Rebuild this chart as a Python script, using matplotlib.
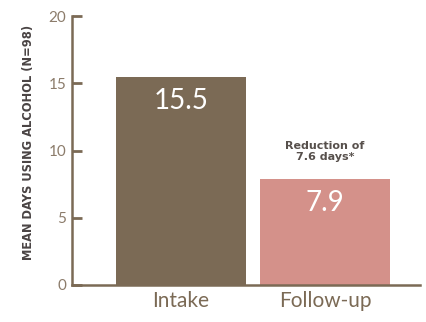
import matplotlib
matplotlib.use("Agg")
import matplotlib.pyplot as plt

categories = ["Intake", "Follow-up"]
values = [15.5, 7.9]
value_labels = ["15.5", "7.9"]
yticks = [0, 5, 10, 15, 20]
annotation = "Reduction of\n7.6 days*"
ylabel = "MEAN DAYS USING ALCOHOL (N=98)"

colors = ["#7b6a55", "#d4918a"]
axis_color = "#7b6a55"
tick_color = "#8c7c6b"

plt.rcParams['font.family'] = ['Lato', 'DejaVu Sans']

fig = plt.figure(figsize=(4.27, 3.22), dpi=100)
ax = fig.add_axes([0.1686, 0.115, 0.815, 0.835])

x = [0, 1]
ax.bar(x, values, width=0.9, color=colors, zorder=2)
ax.set_xlim(-0.757, 1.66)
ax.set_ylim(0, 20)

for xi, v, lab in zip(x, values, value_labels):
    ax.text(xi, v - 1.8, lab, ha="center", va="center", color="white",
            fontsize=20, fontweight="normal", zorder=3)

ax.text(1, 9.9, annotation, ha="center", va="center", color="#57504c",
        fontsize=8, fontweight="bold", linespacing=1.1,
        family=["DejaVu Sans"])

ax.set_yticks(yticks)
ax.set_yticklabels([str(t) for t in yticks], color=tick_color, fontsize=11)
ax.set_xticks(x)
ax.set_xticklabels(categories, color=axis_color, fontsize=15)

ax.tick_params(axis="y", direction="in", length=7, width=2, color=axis_color, pad=4)
ax.tick_params(axis="x", length=0, pad=4)

for s in ["top", "right"]:
    ax.spines[s].set_visible(False)
for s in ["left", "bottom"]:
    ax.spines[s].set_color(axis_color)
    ax.spines[s].set_linewidth(1.8)

ax.set_ylabel(ylabel, fontsize=8.3, fontweight="bold", color="#4a4444",
              family=["DejaVu Sans"])
ax.yaxis.set_label_coords(-0.105, 0.53)

fig.savefig("out.png", dpi=100)
